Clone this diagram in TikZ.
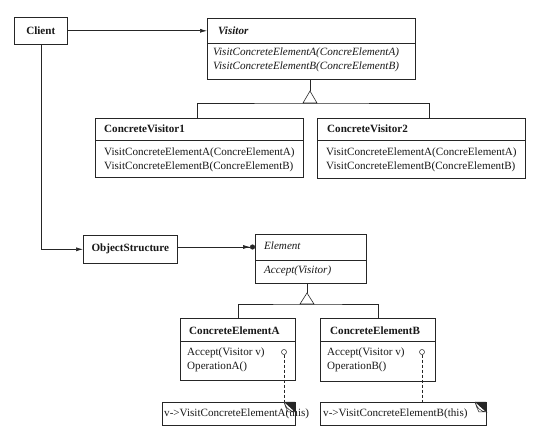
\documentclass[tikz,border=0pt]{standalone}
\usepackage{fontspec}
\setmainfont{Liberation Serif}
\usetikzlibrary{arrows.meta,calc}
\begin{document}
\begin{tikzpicture}[x=1pt,y=-1pt,
  ink/.style={draw=black!85},
  box/.style={ink, line width=0.6pt, anchor=north west, inner sep=0pt, fill=white},
  lbl/.style={anchor=west, inner sep=0pt, font=\fontsize{11.1}{14}\selectfont, text=black!90},
  ttl/.style={lbl, font=\fontsize{11.1}{14}\selectfont\bfseries},
  itl/.style={lbl, font=\fontsize{11.1}{14}\selectfont\itshape},
  conn/.style={ink, line width=0.6pt},
  arr/.style={conn, -{Latex[length=7pt,width=4pt]}},
  tri/.style={ink, line width=0.6pt, fill=white},
  note/.style={ink, line width=0.6pt, fill=white},
  pin/.style={circle, ink, line width=0.5pt, inner sep=0pt, minimum size=5pt, fill=white},
  dashconn/.style={conn, dashed, dash pattern=on 3pt off 2pt}
]
\useasboundingbox (0,0) rectangle (536,430);
\fill[white] (0,0) rectangle (536,430);

% Client
\node[box, minimum width=53pt, minimum height=27pt] (Client) at (14,17) {};
\node[ttl, anchor=center] (ClientT) at (Client.center) {Client};

% Visitor
\node[box, minimum width=208pt, minimum height=61pt] (Visitor) at (207,18) {};
\draw[conn] (Visitor.west |- 0,43) -- (Visitor.east |- 0,43);
\node[ttl, font=\fontsize{11.1}{14}\selectfont\bfseries\itshape] (VisitorT) at (218,31) {Visitor};
\node[itl] (VisitorM1) at (213,53) {VisitConcreteElementA(ConcreElementA)};
\node[itl] (VisitorM2) at (213,67) {VisitConcreteElementB(ConcreElementB)};

% ConcreteVisitor1
\node[box, minimum width=208pt, minimum height=59pt] (CV1) at (95,118) {};
\draw[conn] (CV1.west |- 0,140) -- (CV1.east |- 0,140);
\node[ttl] (CV1T) at (104,129) {ConcreteVisitor1};
\node[lbl] (CV1M1) at (104,153) {VisitConcreteElementA(ConcreElementA)};
\node[lbl] (CV1M2) at (104,167) {VisitConcreteElementB(ConcreElementB)};

% ConcreteVisitor2
\node[box, minimum width=208pt, minimum height=60pt] (CV2) at (317,118) {};
\draw[conn] (CV2.west |- 0,140) -- (CV2.east |- 0,140);
\node[ttl] (CV2T) at (327,129) {ConcreteVisitor2};
\node[lbl] (CV2M1) at (326,153) {VisitConcreteElementA(ConcreElementA)};
\node[lbl] (CV2M2) at (326,167) {VisitConcreteElementB(ConcreElementB)};

% ObjectStructure
\node[box, minimum width=94pt, minimum height=28pt] (OS) at (83,235) {};
\node[ttl, anchor=center] (OST) at (OS.center) {ObjectStructure};

% Element
\node[box, minimum width=111pt, minimum height=49pt] (Element) at (255,234) {};
\draw[conn] (Element.west |- 0,260) -- (Element.east |- 0,260);
\node[itl] (ElementT) at (264,246) {Element};
\node[itl] (ElementM) at (264,271) {Accept(Visitor)};

% ConcreteElementA
\node[box, minimum width=115pt, minimum height=62pt] (CEA) at (180,318) {};
\draw[conn] (CEA.west |- 0,341) -- (CEA.east |- 0,341);
\node[ttl] (CEAT) at (189,331) {ConcreteElementA};
\node[lbl] (CEAM1) at (187,353) {Accept(Visitor v)};
\node[lbl] (CEAM2) at (187,367) {OperationA()};
\node[pin] (PinA) at (284,352) {};

% ConcreteElementB
\node[box, minimum width=115pt, minimum height=63pt] (CEB) at (320,318) {};
\draw[conn] (CEB.west |- 0,341) -- (CEB.east |- 0,341);
\node[ttl] (CEBT) at (330,331) {ConcreteElementB};
\node[lbl] (CEBM1) at (327,353) {Accept(Visitor v)};
\node[lbl] (CEBM2) at (327,367) {OperationB()};
\node[pin] (PinB) at (422,352) {};

% Notes
\coordinate (NoteAnw) at (162,402);
\coordinate (NoteAse) at (295,425);
\draw[note] (NoteAnw) rectangle (NoteAse);
\node[lbl] (NoteA) at (164,414) {v->VisitConcreteElementA(this)};
\fill[black!85] (284,402) -- (295,402) -- (295,412) -- cycle;
\draw[ink, line width=0.5pt, fill=white] (284,402) .. controls (286,408) and (289,411) .. (295,412) -- (288,412) .. controls (286,408) .. (284,402);

\coordinate (NoteBnw) at (320,402);
\coordinate (NoteBse) at (486,425);
\draw[note] (NoteBnw) rectangle (NoteBse);
\node[lbl] (NoteB) at (323,414) {v->VisitConcreteElementB(this)};
\fill[black!85] (475,402) -- (486,402) -- (486,412) -- cycle;
\draw[ink, line width=0.5pt, fill=white] (475,402) .. controls (477,408) and (480,411) .. (486,412) -- (479,412) .. controls (477,408) .. (475,402);

\coordinate (NoteAtop) at (284,402);
\coordinate (NoteBtop) at (422,402);
\draw[dashconn] (PinA.south) -- (NoteAtop);
\draw[dashconn] (PinB.south) -- (NoteBtop);

% Associations
\draw[arr] (Client.east) -- (Client.east -| Visitor.west);
\draw[arr] (Client.south) |- (OS.west);
\draw[conn, -{Latex[length=7pt,width=4pt]Circle[length=5pt]}] (OS.east |- 0,247) -- (Element.west |- 0,247);

% Inheritance: Visitor
\coordinate (VApex) at (310,91);
\coordinate (VBase) at (310,103);
\draw[conn] (Visitor.south -| VApex) -- (VApex);
\draw[conn] (CV1.north -| 197,0) |- (VBase) -| (CV2.north -| 429,0);
\draw[tri] (VApex) -- (303,103) -- (317,103) -- cycle;

% Inheritance: Element
\coordinate (EApex) at (307,293);
\coordinate (EBase) at (307,304);
\draw[conn] (Element.south -| EApex) -- (EApex);
\draw[conn] (CEA.north) |- (EBase) -| (CEB.north);
\draw[tri] (EApex) -- (300,304) -- (314,304) -- cycle;
\end{tikzpicture}
\end{document}
